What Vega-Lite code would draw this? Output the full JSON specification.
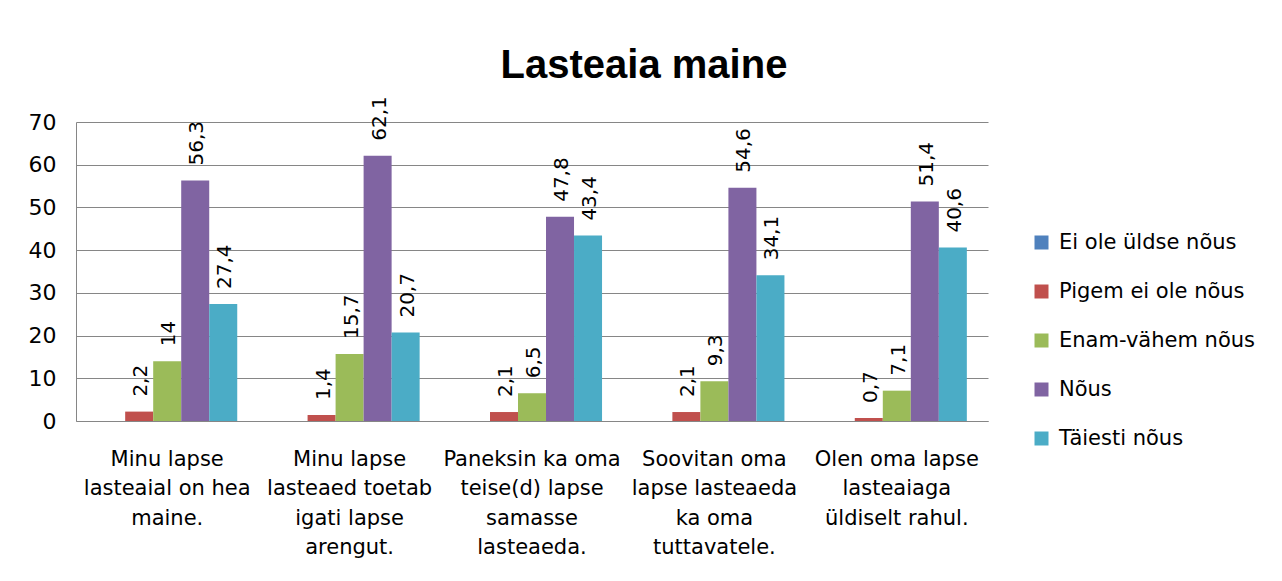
{
  "$schema": "https://vega.github.io/schema/vega-lite/v6.json",
  "autosize": "none",
  "width": 912,
  "height": 299,
  "padding": {"left": 76, "top": 122, "right": 294, "bottom": 160},
  "background": "white",
  "title": {
    "text": "Lasteaia maine",
    "font": "Liberation Sans",
    "fontSize": 40,
    "fontWeight": "bold",
    "color": "#000000",
    "anchor": "middle",
    "frame": "group",
    "dx": 112,
    "dy": 67,
    "baseline": "alphabetic",
    "offset": 45
  },
  "data": {
    "values": [
      {"category": "Minu lapse\nlasteaial on hea\nmaine.", "series": "Ei ole üldse nõus", "value": null},
      {"category": "Minu lapse\nlasteaial on hea\nmaine.", "series": "Pigem ei ole nõus", "value": 2.2},
      {"category": "Minu lapse\nlasteaial on hea\nmaine.", "series": "Enam-vähem nõus", "value": 14},
      {"category": "Minu lapse\nlasteaial on hea\nmaine.", "series": "Nõus", "value": 56.3},
      {"category": "Minu lapse\nlasteaial on hea\nmaine.", "series": "Täiesti nõus", "value": 27.4},
      {"category": "Minu lapse\nlasteaed toetab\nigati lapse\narengut.", "series": "Ei ole üldse nõus", "value": null},
      {"category": "Minu lapse\nlasteaed toetab\nigati lapse\narengut.", "series": "Pigem ei ole nõus", "value": 1.4},
      {"category": "Minu lapse\nlasteaed toetab\nigati lapse\narengut.", "series": "Enam-vähem nõus", "value": 15.7},
      {"category": "Minu lapse\nlasteaed toetab\nigati lapse\narengut.", "series": "Nõus", "value": 62.1},
      {"category": "Minu lapse\nlasteaed toetab\nigati lapse\narengut.", "series": "Täiesti nõus", "value": 20.7},
      {"category": "Paneksin ka oma\nteise(d) lapse\nsamasse\nlasteaeda.", "series": "Ei ole üldse nõus", "value": null},
      {"category": "Paneksin ka oma\nteise(d) lapse\nsamasse\nlasteaeda.", "series": "Pigem ei ole nõus", "value": 2.1},
      {"category": "Paneksin ka oma\nteise(d) lapse\nsamasse\nlasteaeda.", "series": "Enam-vähem nõus", "value": 6.5},
      {"category": "Paneksin ka oma\nteise(d) lapse\nsamasse\nlasteaeda.", "series": "Nõus", "value": 47.8},
      {"category": "Paneksin ka oma\nteise(d) lapse\nsamasse\nlasteaeda.", "series": "Täiesti nõus", "value": 43.4},
      {"category": "Soovitan oma\nlapse lasteaeda\nka oma\ntuttavatele.", "series": "Ei ole üldse nõus", "value": null},
      {"category": "Soovitan oma\nlapse lasteaeda\nka oma\ntuttavatele.", "series": "Pigem ei ole nõus", "value": 2.1},
      {"category": "Soovitan oma\nlapse lasteaeda\nka oma\ntuttavatele.", "series": "Enam-vähem nõus", "value": 9.3},
      {"category": "Soovitan oma\nlapse lasteaeda\nka oma\ntuttavatele.", "series": "Nõus", "value": 54.6},
      {"category": "Soovitan oma\nlapse lasteaeda\nka oma\ntuttavatele.", "series": "Täiesti nõus", "value": 34.1},
      {"category": "Olen oma lapse\nlasteaiaga\nüldiselt rahul.", "series": "Ei ole üldse nõus", "value": null},
      {"category": "Olen oma lapse\nlasteaiaga\nüldiselt rahul.", "series": "Pigem ei ole nõus", "value": 0.7},
      {"category": "Olen oma lapse\nlasteaiaga\nüldiselt rahul.", "series": "Enam-vähem nõus", "value": 7.1},
      {"category": "Olen oma lapse\nlasteaiaga\nüldiselt rahul.", "series": "Nõus", "value": 51.4},
      {"category": "Olen oma lapse\nlasteaiaga\nüldiselt rahul.", "series": "Täiesti nõus", "value": 40.6}
    ]
  },
  "encoding": {
    "x": {
      "field": "category",
      "type": "nominal",
      "sort": null,
      "scale": {"paddingInner": 0.232, "paddingOuter": 0.116},
      "axis": {
        "title": null,
        "labelAngle": 0,
        "ticks": false,
        "domain": true,
        "domainColor": "#868686",
        "labelExpr": "split(datum.label, '\\n')",
        "labelLimit": 400,
        "labelLineHeight": 29.5,
        "labelPadding": 27,
        "labelFont": "DejaVu Sans",
        "labelFontSize": 21,
        "labelColor": "#000000"
      }
    },
    "xOffset": {
      "field": "series",
      "type": "nominal",
      "sort": null,
      "scale": {"domain": ["Ei ole üldse nõus", "Pigem ei ole nõus", "Enam-vähem nõus", "Nõus", "Täiesti nõus"], "paddingInner": 0, "paddingOuter": 0}
    },
    "y": {
      "field": "value",
      "type": "quantitative",
      "scale": {"domain": [0, 70], "nice": false},
      "axis": {
        "title": null,
        "values": [0, 10, 20, 30, 40, 50, 60, 70],
        "ticks": false,
        "grid": true,
        "gridColor": "#868686",
        "gridWidth": 1,
        "domain": true,
        "domainColor": "#868686",
        "labelPadding": 20,
        "labelFont": "DejaVu Sans",
        "labelFontSize": 22,
        "labelColor": "#000000"
      }
    }
  },
  "layer": [
    {
      "mark": {"type": "bar"},
      "encoding": {
        "color": {
          "field": "series",
          "type": "nominal",
          "scale": {
            "domain": ["Ei ole üldse nõus", "Pigem ei ole nõus", "Enam-vähem nõus", "Nõus", "Täiesti nõus"],
            "range": ["#4F81BD", "#C0504D", "#9BBB59", "#8064A2", "#4BACC6"]
          },
          "legend": {
            "title": null,
            "orient": "none",
            "legendX": 955,
            "legendY": 110,
            "padding": 0,
            "symbolType": "square",
            "symbolSize": 196,
            "symbolStrokeWidth": 0,
            "labelOffset": 7,
            "rowPadding": 27,
            "labelFont": "DejaVu Sans",
            "labelFontSize": 21,
            "labelColor": "#000000",
            "labelLimit": 400
          }
        }
      }
    },
    {
      "mark": {"type": "text", "angle": 270, "align": "left", "baseline": "middle", "dx": 15, "dy": 2, "font": "DejaVu Sans", "fontSize": 20, "color": "#000000"},
      "encoding": {
        "text": {"field": "value", "type": "quantitative", "format": ".1~f"}
      }
    }
  ],
  "config": {
    "view": {"stroke": null},
    "locale": {"number": {"decimal": ",", "thousands": " ", "grouping": [3], "currency": ["", " €"]}}
  }
}
